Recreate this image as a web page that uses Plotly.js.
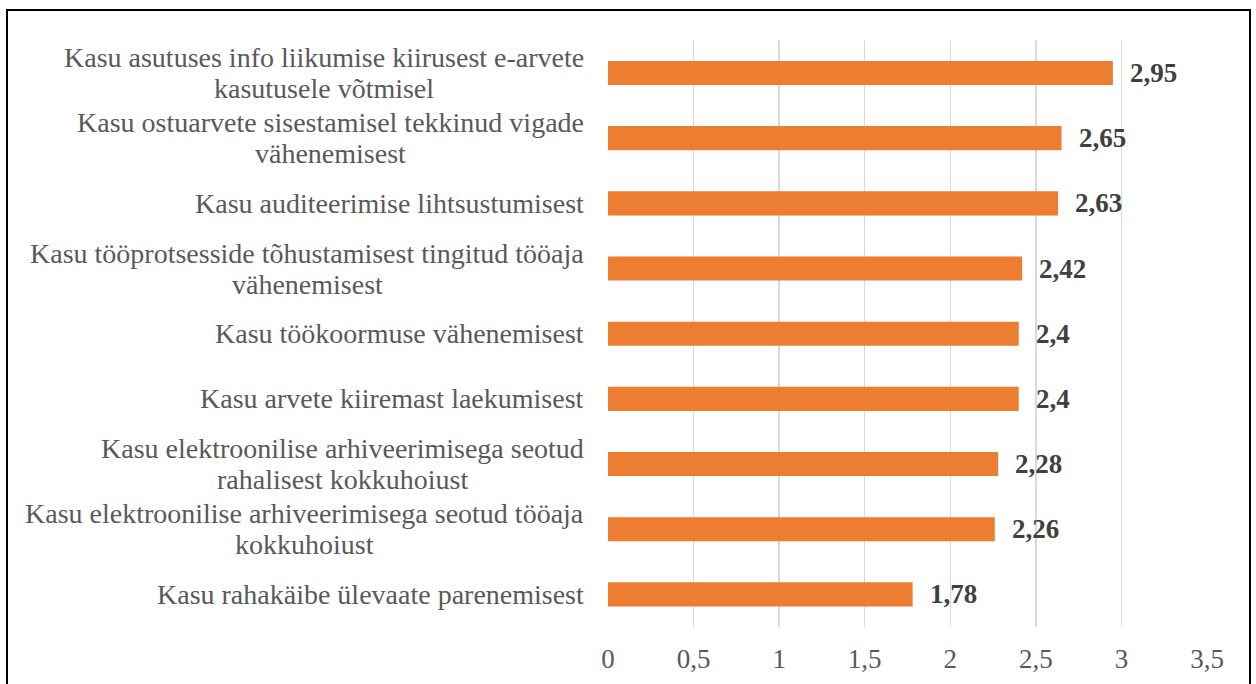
<!DOCTYPE html>
<html>
<head>
<meta charset="utf-8">
<script src="https://cdn.plot.ly/plotly-3.0.1.min.js"></script>
<style>
  html, body { margin: 0; padding: 0; background: #fff; }
  #wrap { position: relative; width: 1256px; height: 684px; overflow: hidden; }
  #chart { width: 1256px; height: 684px; }
  #frame { position: absolute; left: 6px; top: 9px; width: 1245px; height: 700px;
           border: 2px solid #000; pointer-events: none; box-sizing: border-box; }
</style>
</head>
<body>
<div id="wrap">
  <div id="chart"></div>
  <div id="frame"></div>
</div>
<script>
const categories = [
  "Kasu asutuses info liikumise kiirusest e-arvete\nkasutusele võtmisel",
  "Kasu ostuarvete sisestamisel tekkinud vigade\nvähenemisest",
  "Kasu auditeerimise lihtsustumisest",
  "Kasu tööprotsesside tõhustamisest tingitud tööaja\nvähenemisest",
  "Kasu töökoormuse vähenemisest",
  "Kasu arvete kiiremast laekumisest",
  "Kasu elektroonilise arhiveerimisega seotud\nrahalisest kokkuhoiust",
  "Kasu elektroonilise arhiveerimisega seotud tööaja\nkokkuhoiust",
  "Kasu rahakäibe ülevaate parenemisest"
];
const values = [2.95, 2.65, 2.63, 2.42, 2.4, 2.4, 2.28, 2.26, 1.78];
const valueLabels = ["2,95", "2,65", "2,63", "2,42", "2,4", "2,4", "2,28", "2,26", "1,78"];
const xTicks = [0, 0.5, 1, 1.5, 2, 2.5, 3, 3.5];
const xTickLabels = ["0", "0,5", "1", "1,5", "2", "2,5", "3", "3,5"];

const FONT = "Liberation Serif";
const LABEL_SIZE = 28;
const LINE_GAP = 31;
const LABEL_RIGHT_SHIFT = -24;

const canvas = document.createElement('canvas');
const ctx = canvas.getContext('2d');
ctx.font = LABEL_SIZE + "px '" + FONT + "'";

const trace = {
  type: 'bar',
  orientation: 'h',
  x: values,
  y: categories,
  marker: { color: '#ED7D31' },
  width: 0.37,
  hoverinfo: 'none'
};

const annotations = [];
categories.forEach((c, i) => {
  const lines = c.split('\n');
  const widths = lines.map(l => ctx.measureText(l).width);
  const wmax = Math.max.apply(null, widths);
  const centerShift = LABEL_RIGHT_SHIFT - wmax / 2;
  lines.forEach((l, k) => {
    annotations.push({
      xref: 'paper', yref: 'y',
      x: 0, y: c,
      xshift: centerShift,
      yshift: ((lines.length - 1) / 2 - k) * LINE_GAP,
      xanchor: 'center', yanchor: 'middle',
      text: l,
      showarrow: false,
      font: { family: FONT, size: LABEL_SIZE, color: '#595959' }
    });
  });
  annotations.push({
    xref: 'x', yref: 'y',
    x: values[i], y: c,
    xshift: 15,
    xanchor: 'left', yanchor: 'middle',
    text: '<b>' + valueLabels[i] + '</b>',
    showarrow: false,
    font: { family: FONT, size: 27, color: '#404040' }
  });
});

const layout = {
  width: 1256, height: 684,
  margin: { l: 608, r: 49, t: 40, b: 57, pad: 0 },
  paper_bgcolor: '#ffffff',
  plot_bgcolor: '#ffffff',
  separators: ', ',
  showlegend: false,
  font: { family: FONT, size: 27, color: '#595959' },
  xaxis: {
    range: [0, 3.5],
    tickvals: xTicks,
    ticktext: xTickLabels,
    showgrid: true,
    gridcolor: '#D9D9D9',
    gridwidth: 1.5,
    zeroline: false,
    showline: false,
    ticks: '',
    ticklen: 0,
    ticklabelstandoff: 13,
    tickfont: { family: FONT, size: 27, color: '#595959' },
    fixedrange: true
  },
  yaxis: {
    type: 'category',
    autorange: 'reversed',
    showticklabels: false,
    showgrid: false,
    zeroline: false,
    showline: false,
    ticks: '',
    fixedrange: true
  },
  annotations: annotations
};

Plotly.newPlot('chart', [trace], layout, { displayModeBar: false, staticPlot: true });
</script>
</body>
</html>
